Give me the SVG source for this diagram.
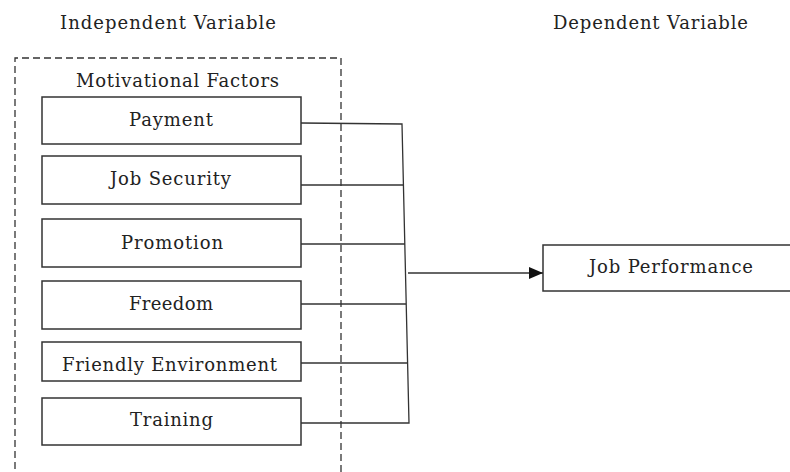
<svg xmlns="http://www.w3.org/2000/svg" width="790" height="472" viewBox="0 0 790 472">
  <style>
    .lbl { font-family: "DejaVu Serif", "Liberation Serif", serif; font-size: 18px; fill: #222; text-anchor: start; }
    .box { fill: #fff; stroke: #333; stroke-width: 1.5; }
    .wire { fill: none; stroke: #333; stroke-width: 1.3; }
    .group { fill: none; stroke: #333; stroke-width: 1.3; stroke-dasharray: 7 4; }
  </style>
  <defs>
    <marker id="arrow" markerWidth="14" markerHeight="12" refX="14" refY="6" orient="auto" markerUnits="userSpaceOnUse">
      <path d="M0,0 L14,6 L0,12 Z" fill="#111"/>
    </marker>
  </defs>
  <rect width="790" height="472" fill="#fff"/>

  <!-- column headings -->
  <text class="lbl" x="60" y="29" textLength="216" lengthAdjust="spacing">Independent Variable</text>
  <text class="lbl" x="553" y="29" textLength="195" lengthAdjust="spacing">Dependent Variable</text>

  <!-- dashed grouping frame -->
  <g id="motivational-factors">
    <path class="group" d="M15,480 V58 H341 V480"/>
    <text class="lbl" x="76" y="87" textLength="203" lengthAdjust="spacing">Motivational Factors</text>
  </g>

  <g id="payment">
    <rect class="box" x="42" y="97" width="259" height="47"/>
    <text class="lbl" x="129" y="126" textLength="84" lengthAdjust="spacing">Payment</text>
  </g>
  <g id="job-security">
    <rect class="box" x="42" y="156" width="259" height="48"/>
    <text class="lbl" x="110" y="185" textLength="121" lengthAdjust="spacing">Job Security</text>
  </g>
  <g id="promotion">
    <rect class="box" x="42" y="219" width="259" height="48"/>
    <text class="lbl" x="121" y="249" textLength="102" lengthAdjust="spacing">Promotion</text>
  </g>
  <g id="freedom">
    <rect class="box" x="42" y="281" width="259" height="48"/>
    <text class="lbl" x="129" y="310" textLength="84" lengthAdjust="spacing">Freedom</text>
  </g>
  <g id="friendly-environment">
    <rect class="box" x="42" y="342" width="259" height="39"/>
    <text class="lbl" x="62" y="371" textLength="215" lengthAdjust="spacing">Friendly Environment</text>
  </g>
  <g id="training">
    <rect class="box" x="42" y="398" width="259" height="47"/>
    <text class="lbl" x="130" y="426" textLength="83" lengthAdjust="spacing">Training</text>
  </g>

  <g id="job-performance">
    <rect class="box" x="543" y="245" width="260" height="46"/>
    <text class="lbl" x="589" y="273" textLength="164" lengthAdjust="spacing">Job Performance</text>
  </g>

  <!-- connectors -->
  <g id="connectors">
    <path class="wire" d="M301,123 L402,124 L409,423 L301,423"/>
    <path class="wire" d="M301,185 L404,185"/>
    <path class="wire" d="M301,244 L405,244"/>
    <path class="wire" d="M301,304 L406,304"/>
    <path class="wire" d="M301,363 L408,363"/>
    <path class="wire" d="M408,273 L543,273" marker-end="url(#arrow)"/>
  </g>
</svg>
